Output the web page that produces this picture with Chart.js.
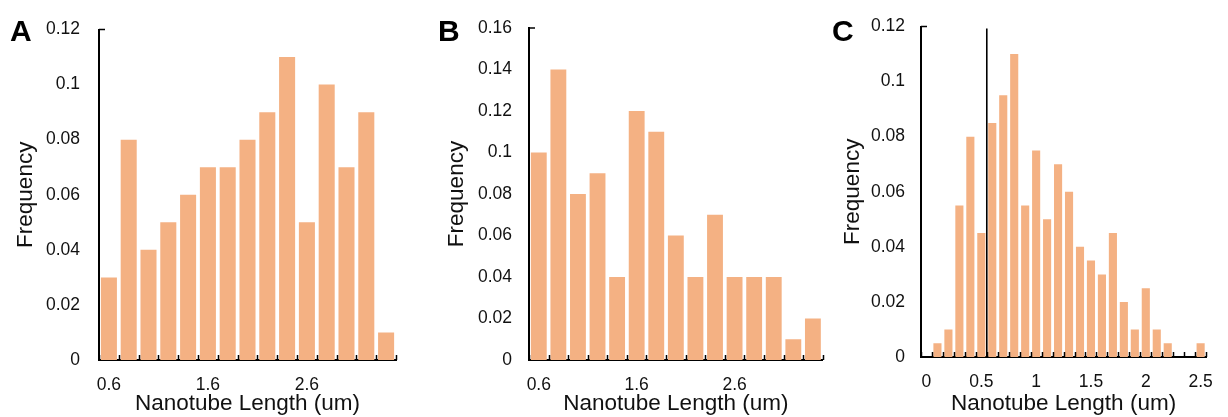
<!DOCTYPE html>
<html>
<head>
<meta charset="utf-8">
<script src="https://cdn.jsdelivr.net/npm/chart.js@4.4.1/dist/chart.umd.min.js"></script>
<style>
  html, body { margin: 0; padding: 0; background: #fff; }
  body { width: 1228px; height: 417px; position: relative; overflow: hidden; font-family: 'Liberation Sans', Arial, sans-serif; }
  canvas { position: absolute; top: 0; }
  .plabel { position: absolute; top: 16px; font-size: 30px; line-height: 30px; font-weight: bold; color: #000; font-family: 'Liberation Sans', Arial, sans-serif; }
</style>
</head>
<body>
<canvas id="cA" width="410" height="417" style="left:0px"></canvas>
<canvas id="cB" width="418" height="417" style="left:410px"></canvas>
<canvas id="cC" width="400" height="417" style="left:828px"></canvas>
<div class="plabel" style="left:10px">A</div>
<div class="plabel" style="left:438px">B</div>
<div class="plabel" style="left:832px">C</div>
<script>
// ---- data ----
const lengthsA = ['0.6','0.8','1.0','1.2','1.4','1.6','1.8','2.0','2.2','2.4','2.6','2.8','3.0','3.2','3.4'];
const freqA = [0.03, 0.08, 0.04, 0.05, 0.06, 0.07, 0.07, 0.08, 0.09, 0.11, 0.05, 0.10, 0.07, 0.09, 0.01];

const lengthsB = ['0.6','0.8','1.0','1.2','1.4','1.6','1.8','2.0','2.2','2.4','2.6','2.8','3.0','3.2','3.4'];
const freqB = [0.10, 0.14, 0.08, 0.09, 0.04, 0.12, 0.11, 0.06, 0.04, 0.07, 0.04, 0.04, 0.04, 0.01, 0.02];

const lengthsC = ['0','0.1','0.2','0.3','0.4','0.5','0.6','0.7','0.8','0.9','1','1.1','1.2','1.3','1.4','1.5','1.6','1.7','1.8','1.9','2','2.1','2.2','2.3','2.4','2.5'];
const freqC = [0, 0.005, 0.01, 0.055, 0.08, 0.045, 0.085, 0.095, 0.11, 0.055, 0.075, 0.05, 0.07, 0.06, 0.04, 0.035, 0.03, 0.045, 0.02, 0.01, 0.025, 0.01, 0.005, 0, 0, 0.005];
const cutoffC = 0.55;

const yMaxA = 0.12, yMaxB = 0.16, yMaxC = 0.12;
const yStep = 0.02;
const labelEvery = 5;
const xTitle = 'Nanotube Length (um)';
const yTitle = 'Frequency';

// ---- styling ----
const BAR = '#F4B183';
const INK = '#111';
const FONT = "'Liberation Sans', Arial, sans-serif";

const axisDecor = {
  id: 'axisDecor',
  afterDraw(chart, args, opts) {
    const ctx = chart.ctx;
    const x = chart.scales.x, y = chart.scales.y;
    const n = chart.data.labels.length;
    ctx.save();
    ctx.strokeStyle = '#000';
    ctx.lineWidth = 1.5;
    for (let i = 0; i <= n; i++) {
      const px = Math.round(x.getPixelForValue(i - 0.5)) + 0.5;
      ctx.beginPath();
      ctx.moveTo(px, y.bottom);
      ctx.lineTo(px, y.bottom - 5);
      ctx.stroke();
    }
    const top = y.getPixelForValue(y.max);
    ctx.beginPath();
    ctx.moveTo(x.left, top);
    ctx.lineTo(x.left + 6, top);
    ctx.stroke();
    if (opts && opts.cutoff != null) {
      const labs = chart.data.labels;
      const idx = labs.findIndex(l => parseFloat(l) > opts.cutoff);
      const px = x.getPixelForValue(idx - 0.5);
      ctx.lineWidth = 1.6;
      ctx.beginPath();
      ctx.moveTo(px, y.top + 2);
      ctx.lineTo(px, y.bottom);
      ctx.stroke();
    }
    ctx.restore();
  }
};

function makePanel(id, labels, values, cfg) {
  return new Chart(document.getElementById(id), {
    type: 'bar',
    data: {
      labels: labels,
      datasets: [{
        data: values,
        backgroundColor: BAR,
        borderWidth: 0,
        barPercentage: cfg.barPct,
        categoryPercentage: 1.0
      }]
    },
    options: {
      responsive: false,
      animation: false,
      devicePixelRatio: 1,
      layout: { padding: { left: 0, right: cfg.padRight, top: cfg.padTop, bottom: 0 } },
      plugins: {
        legend: { display: false },
        tooltip: { enabled: false },
        axisDecor: { cutoff: cfg.cutoff }
      },
      scales: {
        x: {
          type: 'category',
          offset: true,
          grid: { display: false, drawTicks: false },
          border: { display: true, color: '#000', width: 2 },
          ticks: {
            autoSkip: false,
            maxRotation: 0,
            padding: 15,
            color: INK,
            font: { family: FONT, size: 17.5 },
            callback: function(v, i) { return i % labelEvery === 0 ? labels[i] : ''; }
          },
          title: {
            display: true,
            text: xTitle,
            color: INK,
            font: { family: FONT, size: 22.5 },
            padding: { top: 0, bottom: 0 }
          },
          afterFit: function(s) { s.height = cfg.xHeight; }
        },
        y: {
          min: 0,
          max: cfg.yMax,
          grid: { display: false, drawTicks: false },
          border: { display: true, color: '#000', width: 2 },
          ticks: {
            stepSize: yStep,
            padding: cfg.tickPad,
            color: INK,
            font: { family: FONT, size: 17.5 },
            callback: function(v) { return String(Number(v.toFixed(2))); }
          },
          title: {
            display: true,
            text: yTitle,
            color: INK,
            font: { family: FONT, size: 22.5 },
            padding: { top: cfg.titlePad, bottom: 0 }
          },
          afterFit: function(s) { s.width = cfg.yWidth; }
        }
      }
    },
    plugins: [axisDecor]
  });
}

makePanel('cA', lengthsA, freqA, { yMax: yMaxA, padRight: 14, padTop: 26, xHeight: 57, yWidth: 99, titlePad: 12, tickPad: 19, barPct: 0.81, cutoff: null });
makePanel('cB', lengthsB, freqB, { yMax: yMaxB, padRight: 3, padTop: 28, xHeight: 57, yWidth: 119, titlePad: 33, tickPad: 17, barPct: 0.81, cutoff: null });
makePanel('cC', lengthsC, freqC, { yMax: yMaxC, padRight: 11, padTop: 26, xHeight: 60, yWidth: 93, titlePad: 11, tickPad: 16, barPct: 0.74, cutoff: cutoffC });
</script>
</body>
</html>
